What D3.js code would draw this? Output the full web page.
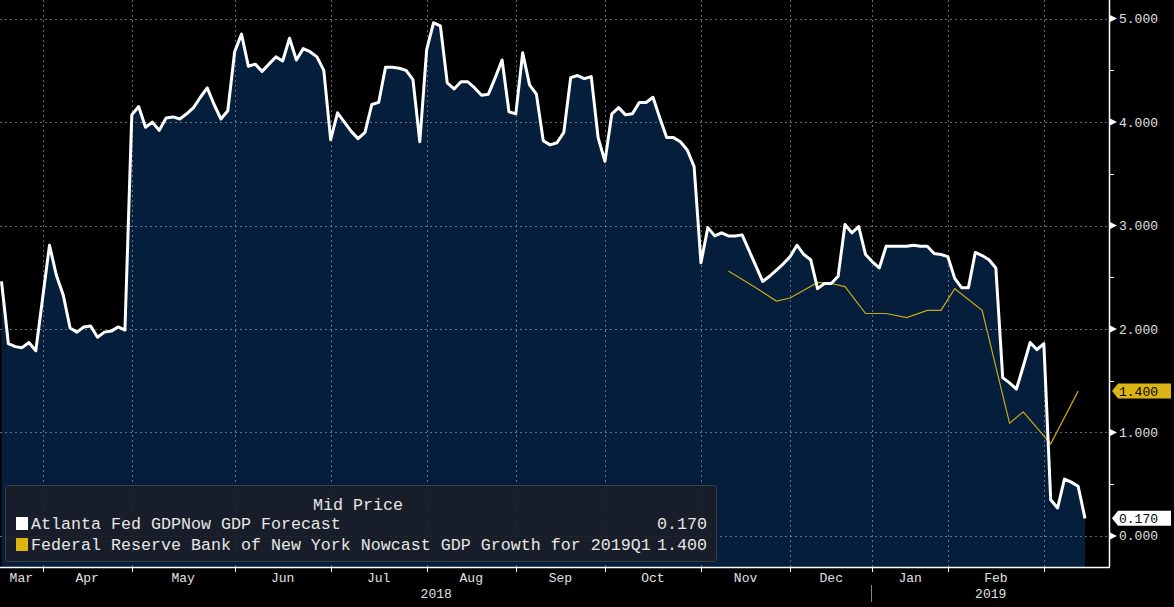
<!DOCTYPE html>
<html>
<head>
<meta charset="utf-8">
<script src="https://cdn.jsdelivr.net/npm/d3@7/dist/d3.min.js"></script>
<style>
  html, body { margin: 0; padding: 0; background: #000; }
  svg { display: block; }
  text { font-family: "Liberation Mono", "DejaVu Sans Mono", monospace; }
</style>
</head>
<body>
<svg id="chart" width="1174" height="607"></svg>
<script>
// ---- Data (equally spaced observations, Bloomberg style) ----
const atlantaFed = [
  2.46, 1.86, 1.83, 1.82, 1.87, 1.79, 2.30, 2.81, 2.52, 2.33,
  2.01, 1.97, 2.02, 2.03, 1.92, 1.97, 1.98, 2.02, 1.99, 4.07,
  4.15, 3.95, 4.00, 3.92, 4.04, 4.05, 4.03, 4.08, 4.14, 4.24,
  4.33, 4.17, 4.03, 4.11, 4.68, 4.85, 4.54, 4.56, 4.49, 4.56,
  4.63, 4.59, 4.81, 4.60, 4.71, 4.68, 4.63, 4.50, 3.83, 4.09,
  4.00, 3.91, 3.84, 3.90, 4.17, 4.19, 4.53, 4.53, 4.52, 4.50,
  4.41, 3.81, 4.70, 4.96, 4.93, 4.38, 4.32, 4.39, 4.39, 4.33,
  4.26, 4.27, 4.43, 4.60, 4.10, 4.08, 4.67, 4.36, 4.27, 3.82,
  3.78, 3.80, 3.90, 4.43, 4.45, 4.42, 4.44, 3.85, 3.62, 4.08,
  4.14, 4.07, 4.08, 4.19, 4.19, 4.24, 4.04, 3.85, 3.85, 3.81,
  3.73, 3.57, 2.64, 2.98, 2.90, 2.93, 2.90, 2.90, 2.91, 2.76,
  2.61, 2.46, 2.51, 2.57, 2.63, 2.70, 2.81, 2.72, 2.67, 2.39,
  2.44, 2.44, 2.51, 3.01, 2.93, 2.99, 2.72, 2.65, 2.59, 2.80,
  2.80, 2.80, 2.80, 2.81, 2.80, 2.80, 2.73, 2.72, 2.70, 2.49,
  2.40, 2.40, 2.74, 2.71, 2.67, 2.59, 1.53, 1.48, 1.42, 1.64,
  1.87, 1.80, 1.86, 0.35, 0.27, 0.55, 0.52, 0.48, 0.17
];
const nyFedIdx  = [106, 110, 113, 115, 119, 121, 123, 126, 129, 132, 135, 137, 139, 143, 147, 149, 153, 157];
const nyFedVals = [2.56, 2.40, 2.27, 2.30, 2.45, 2.44, 2.41, 2.15, 2.15, 2.11, 2.18, 2.18, 2.39, 2.18, 1.09, 1.20, 0.89, 1.40];

const monthLabels   = ["Mar", "Apr", "May", "Jun", "Jul", "Aug", "Sep", "Oct", "Nov", "Dec", "Jan", "Feb"];
const monthStartIdx = [6, 19, 34, 48, 62, 75, 88, 102, 115, 127, 138, 152]; // first obs of Apr..Mar
const yearLabels    = ["2018", "2019"];
const yearStartIdx  = [127];
const yTicks        = [0, 1, 2, 3, 4, 5];
const yMinorTicks   = [0.5, 1.5, 2.5, 3.5, 4.5];

const seriesNames = [
  "Atlanta Fed GDPNow GDP Forecast",
  "Federal Reserve Bank of New York Nowcast GDP Growth for 2019Q1"
];
const lastValues = [0.170, 1.400];
const colors = ["#ffffff", "#dcb414"];

// ---- Layout ----
const svg = d3.select("#chart");
const plotL = 0, plotR = 1109, plotT = 0, plotB = 567;

const x = d3.scaleLinear().domain([0, atlantaFed.length - 1]).range([1.5, 1085]);
const y = d3.scaleLinear().domain([-0.3, 5.18]).range([567, 0]);

svg.append("rect").attr("width", 1174).attr("height", 607).attr("fill", "#000");

// Area
const pts = atlantaFed.map((v, i) => [i, v]);
svg.append("path")
  .datum(pts)
  .attr("fill", "#051e3b")
  .attr("d", d3.area().x(d => x(d[0])).y0(plotB).y1(d => y(d[1])));

// Grid lines
const grid = svg.append("g").attr("stroke", "#8c96a6").attr("stroke-opacity", 0.7)
  .attr("stroke-width", 1).attr("stroke-dasharray", "2,3");
yTicks.forEach(t => {
  grid.append("line").attr("x1", plotL).attr("x2", plotR)
    .attr("y1", Math.round(y(t)) + 0.5).attr("y2", Math.round(y(t)) + 0.5);
});
monthStartIdx.forEach(i => {
  const xx = Math.round(x(i)) + 0.5;
  grid.append("line").attr("x1", xx).attr("x2", xx).attr("y1", plotT).attr("y2", plotB);
});

// NY Fed line
const ny = nyFedIdx.map((i, k) => [i, nyFedVals[k]]);
svg.append("path").datum(ny)
  .attr("fill", "none").attr("stroke", "#c9a817").attr("stroke-width", 1.2)
  .attr("d", d3.line().x(d => x(d[0])).y(d => y(d[1])));

// Atlanta Fed line
svg.append("path").datum(pts)
  .attr("fill", "none").attr("stroke", "#ffffff").attr("stroke-width", 3)
  .attr("stroke-linejoin", "round")
  .attr("d", d3.line().x(d => x(d[0])).y(d => y(d[1])));

// Legend box
const lg = svg.append("g");
lg.append("rect").attr("x", 5.5).attr("y", 485.5).attr("width", 711).attr("height", 76).attr("rx", 2)
  .attr("fill", "#1b1f27").attr("fill-opacity", 0.88).attr("stroke", "#3a3f48");
lg.append("text").attr("x", 358).attr("y", 510).attr("text-anchor", "middle")
  .attr("fill", "#e6e6e6").attr("font-size", 16.67).text("Mid Price");
seriesNames.forEach((name, k) => {
  const cy = 523 + k * 21;
  lg.append("rect").attr("x", 16).attr("y", cy - 6).attr("width", 12).attr("height", 13).attr("fill", colors[k]);
  lg.append("text").attr("x", 31).attr("y", cy + 6).attr("fill", "#e6e6e6").attr("font-size", 16.67).text(name);
  lg.append("text").attr("x", 707).attr("y", cy + 6).attr("text-anchor", "end")
    .attr("fill", "#e6e6e6").attr("font-size", 16.67).text(lastValues[k].toFixed(3));
});

// Axes lines
svg.append("line").attr("x1", plotR + 0.5).attr("x2", plotR + 0.5).attr("y1", 0).attr("y2", plotB)
  .attr("stroke", "#fff").attr("stroke-width", 1.5);
svg.append("line").attr("x1", 0).attr("x2", plotR + 1).attr("y1", plotB + 0.5).attr("y2", plotB + 0.5)
  .attr("stroke", "#fff").attr("stroke-width", 1.5);

// Y axis ticks and labels
yTicks.forEach(t => {
  const yy = y(t);
  svg.append("path").attr("d", `M${plotR + 1},${yy - 3.5}L${plotR + 8},${yy}L${plotR + 1},${yy + 3.5}Z`).attr("fill", "#fff");
  svg.append("text").attr("x", 1119).attr("y", yy + 4.5).attr("fill", "#e0e0e0")
    .attr("font-size", 13).text(d3.format(".3f")(t));
});
yMinorTicks.forEach(t => {
  const yy = Math.round(y(t)) + 0.5;
  svg.append("line").attr("x1", plotR).attr("x2", plotR + 5).attr("y1", yy).attr("y2", yy).attr("stroke", "#fff");
});

// Last value tags
lastValues.forEach((v, k) => {
  const yy = y(v);
  svg.append("path").attr("d", `M1112,${yy}L1118,${yy - 7.5}L1171,${yy - 7.5}L1171,${yy + 7.5}L1118,${yy + 7.5}Z`)
    .attr("fill", colors[k]);
  svg.append("text").attr("x", 1119).attr("y", yy + 4.5).attr("fill", "#000")
    .attr("font-size", 13).text(v.toFixed(3));
});

// X axis ticks and labels
monthStartIdx.forEach(i => {
  const xx = Math.round(x(i)) + 0.5;
  svg.append("line").attr("x1", xx).attr("x2", xx).attr("y1", plotB).attr("y2", plotB + 5).attr("stroke", "#fff");
});
const bounds = [plotL, ...monthStartIdx.map(i => x(i))];
monthLabels.forEach((m, k) => {
  const cx = (bounds[k] + bounds[k + 1]) / 2;
  svg.append("text").attr("x", cx).attr("y", 582).attr("text-anchor", "middle")
    .attr("fill", "#e0e0e0").attr("font-size", 13).text(m);
});
const yBounds = [plotL, ...yearStartIdx.map(i => x(i)), plotR];
yearLabels.forEach((yl, k) => {
  const cx = (yBounds[k] + yBounds[k + 1]) / 2;
  svg.append("text").attr("x", cx).attr("y", 598).attr("text-anchor", "middle")
    .attr("fill", "#e0e0e0").attr("font-size", 13).text(yl);
});
yearStartIdx.forEach(i => {
  const xx = Math.round(x(i)) - 0.5;
  svg.append("line").attr("x1", xx).attr("x2", xx).attr("y1", 585).attr("y2", 602)
    .attr("stroke", "#888").attr("stroke-width", 1);
});
</script>
</body>
</html>
